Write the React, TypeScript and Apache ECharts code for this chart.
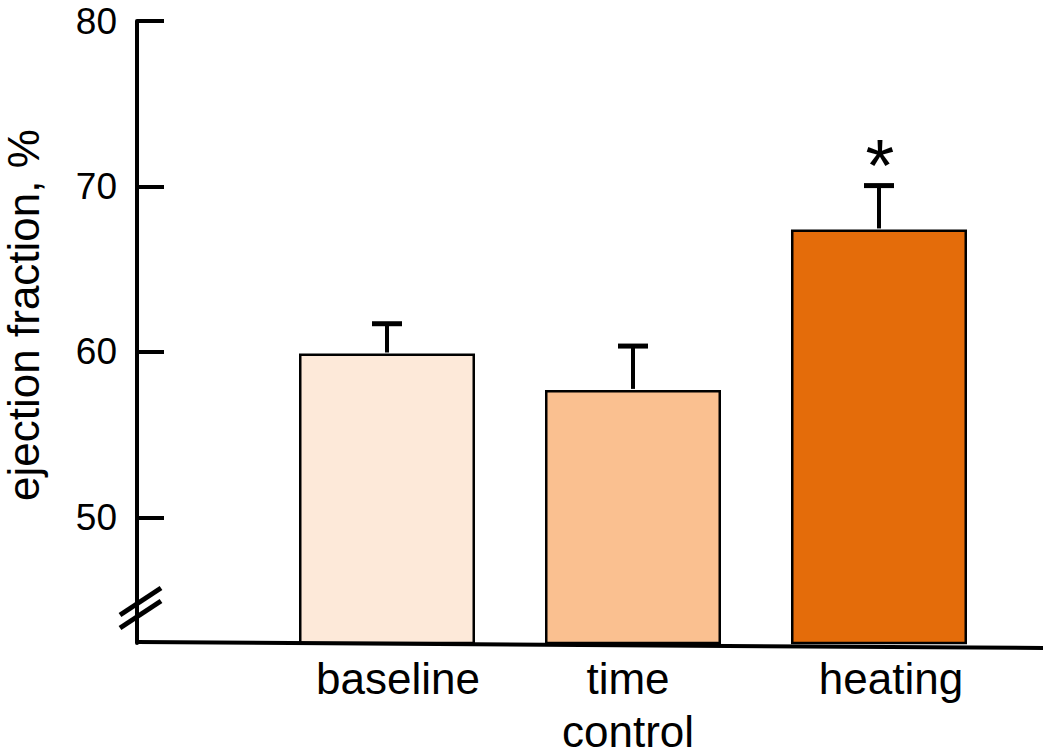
import React, { useEffect, useRef } from 'react';
import * as echarts from 'echarts';

const categories = ['baseline', 'time\ncontrol', 'heating'];
const means = [59.9, 57.7, 67.4];
const errors = [1.8, 2.65, 2.65];
const barColors = ['#FDE9D9', '#FAC090', '#E46C0A'];
const significance = ['', '', '*'];
const yTicks = [50, 60, 70, 80];
const yMin = 42.4;
const yMax = 80;
const yTitle = 'ejection fraction, %';

const FONT = '"Liberation Sans", Arial, Helvetica, sans-serif';
const labelPads = [[0, 0, 0, 22], [0, 10, 0, 0], [0, 0, 0, 24]];

export default function App() {
  const ref = useRef<HTMLDivElement>(null);
  useEffect(() => {
    document.body.style.margin = '0';
    if (!ref.current) return;
    const chart = echarts.init(ref.current, undefined, { renderer: 'svg' });
    const errData = means.map((m, i) => [i, m, m + errors[i]]);
    chart.setOption({
      animation: false,
      backgroundColor: '#ffffff',
      textStyle: { fontFamily: FONT },
      grid: { left: 264, right: 48, top: 21, bottom: 112, outerBoundsMode: 'none', containLabel: false },
      xAxis: {
        type: 'category',
        data: categories.map((c, i) => ({ value: c, textStyle: { padding: labelPads[i] } })),
        axisLine: { show: false },
        axisTick: { show: false },
        axisLabel: { fontSize: 44, lineHeight: 53, color: '#000', margin: 9, fontFamily: FONT },
      },
      yAxis: {
        type: 'value',
        min: yMin,
        max: yMax,
        offset: 127,
        splitLine: { show: false },
        axisLine: { show: true, lineStyle: { color: '#000', width: 4 } },
        axisTick: { show: true, inside: true, length: 27, lineStyle: { color: '#000', width: 4 }, customValues: yTicks },
        axisLabel: { fontSize: 37, color: '#000', margin: 20, customValues: yTicks, fontFamily: FONT },
      },
      series: [
        {
          type: 'bar',
          barWidth: 176,
          data: means.map((v, i) => ({
            value: v,
            itemStyle: { color: barColors[i], borderColor: '#000', borderWidth: 2.5 },
          })),
        },
        {
          type: 'custom',
          z: 5,
          data: errData,
          renderItem: (params: any, api: any) => {
            const idx = api.value(0);
            const base = api.coord([idx, api.value(1)]);
            const top = api.coord([idx, api.value(2)]);
            const sig = significance[params.dataIndex];
            const children: any[] = [
              { type: 'line', shape: { x1: top[0], y1: base[1] - 1, x2: top[0], y2: top[1] }, style: { stroke: '#000', lineWidth: 4 } },
              { type: 'line', shape: { x1: top[0] - 15, y1: top[1], x2: top[0] + 15, y2: top[1] }, style: { stroke: '#000', lineWidth: 5 } },
            ];
            if (sig) {
              children.push({
                type: 'text',
                style: { text: sig, x: top[0] + 1, y: top[1] - 20, fontSize: 74, fontFamily: FONT, fill: '#000', align: 'center', verticalAlign: 'middle' },
              });
            }
            return { type: 'group', children };
          },
        },
      ],
      graphic: [
        {
          type: 'text',
          x: 23,
          y: 315,
          rotation: Math.PI / 2,
          style: { text: yTitle, fontSize: 44, fontFamily: FONT, fill: '#000', align: 'center', verticalAlign: 'middle' },
        },
        { type: 'line', shape: { x1: 137, y1: 642, x2: 1043, y2: 648 }, style: { stroke: '#000', lineWidth: 4 }, z: 10 },
        { type: 'line', shape: { x1: 120, y1: 615, x2: 161, y2: 588 }, style: { stroke: '#000', lineWidth: 5 }, z: 10 },
        { type: 'line', shape: { x1: 120, y1: 628, x2: 161, y2: 601 }, style: { stroke: '#000', lineWidth: 5 }, z: 10 },
      ],
    });
    return () => chart.dispose();
  }, []);
  return <div ref={ref} style={{ width: 1050, height: 755 }} />;
}
